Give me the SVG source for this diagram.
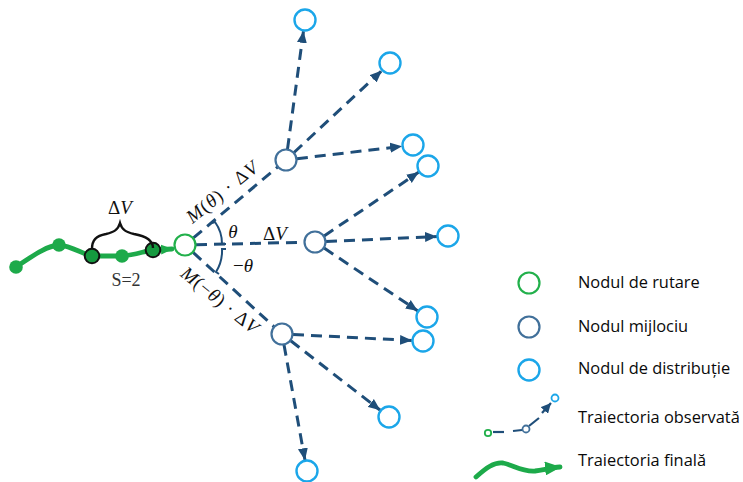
<svg xmlns="http://www.w3.org/2000/svg" width="743" height="482" viewBox="0 0 743 482">
  <style>
    .route { fill: #ffffff; stroke: #22B04B; stroke-width: 2.2; }
    .mid { fill: #ffffff; stroke: #41709A; stroke-width: 2.2; }
    .dist { fill: #ffffff; stroke: #1BA6E9; stroke-width: 2.4; }
    .dash { fill: none; stroke: #1F4E79; stroke-width: 3; stroke-dasharray: 11 7; }
    .arr { marker-end: url(#navyArrow); }
    .math { font-family: "Liberation Serif", "DejaVu Serif", serif; font-style: italic; fill: #111111; }
    .up { font-style: normal; }
    .legend { font-family: "Open Sans", "Noto Sans", "Liberation Sans", sans-serif; font-size: 16.4px; fill: #0a0a0a; }
    .green { fill: none; stroke: #1DAA4A; stroke-width: 4.8; stroke-linecap: round; stroke-linejoin: round; }
  </style>
  <defs>
    <marker id="navyArrow" markerUnits="userSpaceOnUse" viewBox="0 0 12 10" markerWidth="12" markerHeight="11" refX="12" refY="5" orient="auto">
      <path d="M0,0 L12,5 L0,10 z" fill="#1F4E79"/>
    </marker>
    <marker id="smallNavyArrow" markerUnits="userSpaceOnUse" viewBox="0 0 10 10" markerWidth="10" markerHeight="10" refX="10" refY="5" orient="auto">
      <path d="M0,0 L10,5 L0,10 z" fill="#1F4E79"/>
    </marker>
    <marker id="greenArrow" markerUnits="userSpaceOnUse" viewBox="0 0 12 10" markerWidth="12" markerHeight="11" refX="11" refY="5" orient="auto">
      <path d="M0,0 L12,5 L0,10 z" fill="#1DAA4A"/>
    </marker>
    <marker id="bigGreenArrow" markerUnits="userSpaceOnUse" viewBox="0 0 16 14" markerWidth="16" markerHeight="14" refX="15" refY="7" orient="auto">
      <path d="M0,0 L16,7 L0,14 z" fill="#1DAA4A"/>
    </marker>
  </defs>

  <!-- final trajectory with sampled points -->
  <g id="trajectory">
    <path class="green" d="M16,267 C30,258 45,246 59,245 C72,246 82,254 92,256 L122,256 C135,255 145,251 153,250 L172,249" marker-end="url(#greenArrow)"/>
    <circle cx="16" cy="267" r="6.8" fill="#1DAA4A"/>
    <circle cx="59" cy="245" r="6.8" fill="#1DAA4A"/>
    <circle cx="122" cy="256" r="6.8" fill="#1DAA4A"/>
    <circle cx="92" cy="256" r="7.3" fill="#15993F" stroke="#111111" stroke-width="2"/>
    <circle cx="153" cy="250" r="7.3" fill="#15993F" stroke="#111111" stroke-width="2"/>
    <!-- step brace -->
    <path d="M92,249 C92,240 96,236 106,234 C114,232 118,230 120,223 C122,230 126,232 134,234 C145,236 153,240 153,248" fill="none" stroke="#111111" stroke-width="2.4"/>
    <text class="math" x="120" y="214" font-size="19" text-anchor="middle"><tspan class="up">Δ</tspan>V</text>
    <text x="126" y="286" font-family="Liberation Serif, serif" font-size="18" fill="#333333" text-anchor="middle">S=2</text>
  </g>

  <!-- connectors -->
  <g id="connectors">
    <line class="dash" x1="193.4" y1="237.9" x2="278.3" y2="166.4"/>
    <line class="dash" x1="196" y1="244.7" x2="304" y2="242.3"/>
    <line class="dash" x1="193.1" y1="252.4" x2="273.9" y2="326.6"/>

    <line class="dash arr" x1="287.5" y1="149.1" x2="303.5" y2="30.9"/>
    <line class="dash arr" x1="294" y1="152.5" x2="382" y2="70.5"/>
    <line class="dash arr" x1="296.9" y1="158.7" x2="402.1" y2="146.3"/>

    <line class="dash arr" x1="324.1" y1="235.9" x2="418.9" y2="172.1"/>
    <line class="dash arr" x1="326" y1="241.5" x2="437" y2="236.5"/>
    <line class="dash arr" x1="324.1" y1="248.1" x2="417.9" y2="310.9"/>

    <line class="dash arr" x1="293" y1="334.5" x2="412" y2="340.5"/>
    <line class="dash arr" x1="290.7" y1="340.7" x2="380.3" y2="410.3"/>
    <line class="dash arr" x1="284" y1="344.8" x2="305" y2="460.2"/>

    <!-- turning angles -->
    <path d="M212,223 L215,222 A37,37 0 0 1 222,244 L226,244" fill="none" stroke="#1F4E79" stroke-width="2"/>
    <path d="M226,249 L222,249 A40,40 0 0 1 216,272 L219,274" fill="none" stroke="#1F4E79" stroke-width="2"/>
    <text class="math" x="233" y="238" font-size="19" text-anchor="middle">θ</text>
    <text class="math" x="243" y="272" font-size="19" text-anchor="middle"><tspan class="up">−</tspan>θ</text>
    <text class="math" x="275" y="240" font-size="19" text-anchor="middle"><tspan class="up">Δ</tspan>V</text>
    <text class="math" font-size="19" text-anchor="middle" textLength="86" transform="translate(226,197) rotate(-39)">M<tspan class="up">(</tspan>θ<tspan class="up">) · Δ</tspan>V</text>
    <text class="math" font-size="19" text-anchor="middle" textLength="94" transform="translate(216,305) rotate(39)">M<tspan class="up">(−</tspan>θ<tspan class="up">) · Δ</tspan>V</text>
  </g>

  <!-- routing node -->
  <g id="node-routing">
    <circle class="route" cx="185" cy="245" r="10.5"/>
  </g>

  <!-- middle nodes -->
  <g id="node-mid-upper"><circle class="mid" cx="286" cy="160" r="10.5"/></g>
  <g id="node-mid-center"><circle class="mid" cx="315" cy="242" r="10.5"/></g>
  <g id="node-mid-lower"><circle class="mid" cx="282" cy="334" r="10.5"/></g>

  <!-- distribution nodes -->
  <g id="node-dist-1"><circle class="dist" cx="305" cy="20" r="10.5"/></g>
  <g id="node-dist-2"><circle class="dist" cx="390" cy="63" r="10.5"/></g>
  <g id="node-dist-3"><circle class="dist" cx="413" cy="145" r="10.5"/></g>
  <g id="node-dist-4"><circle class="dist" cx="428" cy="166" r="10.5"/></g>
  <g id="node-dist-5"><circle class="dist" cx="448" cy="236" r="10.5"/></g>
  <g id="node-dist-6"><circle class="dist" cx="427" cy="317" r="10.5"/></g>
  <g id="node-dist-7"><circle class="dist" cx="423" cy="341" r="10.5"/></g>
  <g id="node-dist-8"><circle class="dist" cx="389" cy="417" r="10.5"/></g>
  <g id="node-dist-9"><circle class="dist" cx="307" cy="471" r="10.5"/></g>

  <!-- legend -->
  <g id="legend">
    <circle class="route" cx="529" cy="283" r="10.5"/>
    <text class="legend" x="578" y="288">Nodul de rutare</text>
    <circle class="mid" cx="529" cy="327" r="10.5"/>
    <text class="legend" x="578" y="332">Nodul mijlociu</text>
    <circle class="dist" cx="529" cy="370" r="10.5"/>
    <text class="legend" x="578" y="374">Nodul de distribuție</text>

    <circle cx="488" cy="433" r="3.2" fill="#ffffff" stroke="#22B04B" stroke-width="1.8"/>
    <line x1="493" y1="432" x2="504" y2="432" stroke="#1F4E79" stroke-width="2.2"/>
    <line x1="513" y1="431" x2="522" y2="430" stroke="#1F4E79" stroke-width="2.2"/>
    <circle cx="526" cy="429" r="3.5" fill="#ffffff" stroke="#41709A" stroke-width="1.8"/>
    <line x1="529" y1="426" x2="539" y2="418" stroke="#1F4E79" stroke-width="2.2"/>
    <line x1="542" y1="413" x2="551" y2="403" stroke="#1F4E79" stroke-width="2.2" marker-end="url(#smallNavyArrow)"/>
    <circle cx="555" cy="398" r="3.5" fill="#ffffff" stroke="#1BA6E9" stroke-width="1.8"/>
    <text class="legend" x="578" y="423">Traiectoria observată</text>

    <path class="green" d="M476,477 C486,468 494,462 503,463 C513,465 522,472 535,471 C543,470 550,468 560,467" marker-end="url(#bigGreenArrow)"/>
    <text class="legend" x="578" y="466">Traiectoria finală</text>
  </g>
</svg>
